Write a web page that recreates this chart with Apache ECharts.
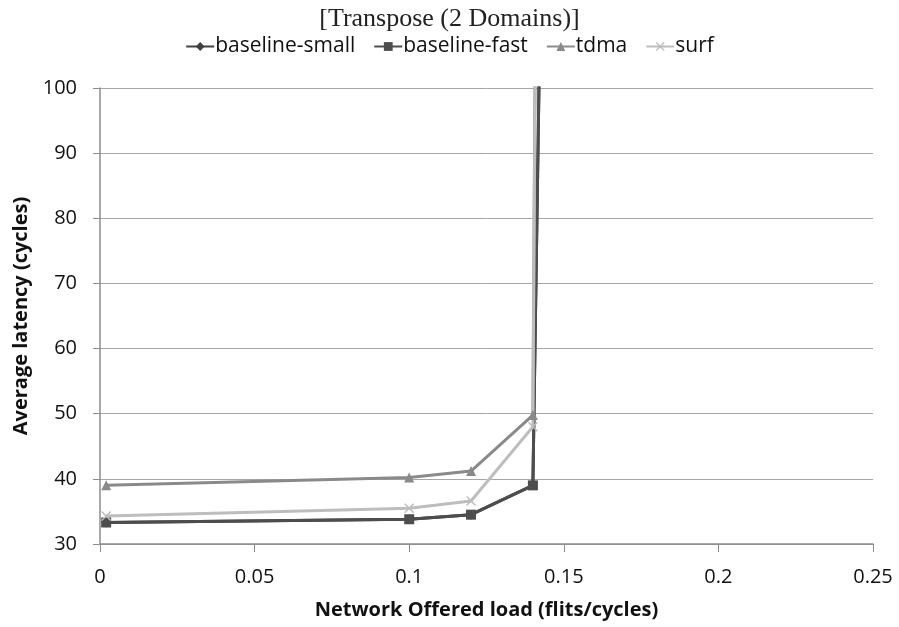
<!DOCTYPE html>
<html>
<head>
<meta charset="utf-8">
<script src="https://cdn.jsdelivr.net/npm/echarts@6/dist/echarts.min.js"></script>
<style>
  html, body { margin: 0; padding: 0; background: #fff; }
  #chart { width: 899px; height: 627px; }
</style>
</head>
<body>
<div id="chart"></div>
<script>
// Offered load (flits/cycle) and average latency (cycles) per router design
const loads = [0.002, 0.1, 0.12, 0.14, 0.15];
const baselineSmall = [33.3, 33.8, 34.5, 39.0, 350];
const baselineFast = [33.3, 33.8, 34.5, 39.0, 350];
const tdma = [39.0, 40.2, 41.2, 49.8, 800];
const surf = [34.3, 35.5, 36.6, 48.0, 800];
const seriesNames = ['baseline-small', 'baseline-fast', 'tdma', 'surf'];
const xTicks = [0, 0.05, 0.1, 0.15, 0.2, 0.25];
const yTicks = [30, 40, 50, 60, 70, 80, 90, 100];

const sans = '"Open Sans", "Liberation Sans", sans-serif';
const crossPath = 'path://M1,0L5,4L9,0L10,1L6,5L10,9L9,10L5,6L1,10L0,9L4,5L0,1Z';

function pairs(ys) {
  return loads.map((x, i) => [x, ys[i]]);
}

function makeSeries(name, ys, color, symbol, size) {
  return {
    name: name,
    type: 'line',
    data: pairs(ys),
    clip: true,
    symbol: symbol,
    symbolSize: size,
    showAllSymbol: true,
    lineStyle: { color: color, width: 3 },
    itemStyle: { color: color, borderColor: color, borderWidth: 0 },
    emphasis: { disabled: true },
    animation: false
  };
}

const chart = echarts.init(document.getElementById('chart'), null, { renderer: 'canvas' });
chart.setOption({
  backgroundColor: '#ffffff',
  animation: false,
  title: {
    text: '[Transpose (2 Domains)]',
    left: 'center',
    top: 1,
    textStyle: {
      fontFamily: '"Liberation Serif", "DejaVu Serif", serif',
      fontWeight: 'normal',
      fontSize: 26,
      color: '#222'
    }
  },
  legend: {
    data: seriesNames,
    top: 31,
    left: 'center',
    itemWidth: 28,
    itemHeight: 11,
    itemGap: 18,
    textStyle: { fontFamily: sans, fontSize: 21, color: '#111', padding: [0, 0, 0, -4] }
  },
  grid: { left: 100, right: 26, top: 88, bottom: 83, containLabel: false },
  xAxis: {
    type: 'value',
    min: 0,
    max: 0.25,
    interval: 0.05,
    name: 'Network Offered load (flits/cycles)',
    nameLocation: 'middle',
    nameGap: 56,
    nameTextStyle: { fontFamily: sans, fontWeight: 'bold', fontSize: 20, color: '#111' },
    axisLine: { show: true, onZero: false, lineStyle: { color: '#8c8c8c', width: 1.5 } },
    axisTick: { show: true, length: 8, lineStyle: { color: '#8c8c8c' } },
    axisLabel: {
      fontFamily: sans, fontSize: 20, color: '#111', margin: 23,
      formatter: v => xTicks.includes(+v.toFixed(2)) ? String(+v.toFixed(2)) : ''
    },
    splitLine: { show: false }
  },
  yAxis: {
    type: 'value',
    min: 30,
    max: 100,
    interval: 10,
    name: 'Average latency (cycles)',
    nameLocation: 'middle',
    nameGap: 63,
    nameRotate: 90,
    nameTextStyle: { fontFamily: sans, fontWeight: 'bold', fontSize: 20, color: '#111' },
    axisLine: { show: true, lineStyle: { color: '#8c8c8c', width: 1.5 } },
    axisTick: { show: true, length: 7, lineStyle: { color: '#8c8c8c' } },
    axisLabel: {
      fontFamily: sans, fontSize: 20, color: '#111', margin: 23,
      formatter: v => yTicks.includes(v) ? String(v) : ''
    },
    splitLine: { show: true, lineStyle: { color: '#a6a6a6', width: 1 } }
  },
  series: [
    makeSeries(seriesNames[0], baselineSmall, '#404040', 'diamond', 10),
    makeSeries(seriesNames[1], baselineFast, '#4d4d4d', 'rect', 10),
    makeSeries(seriesNames[2], tdma, '#8a8a8a', 'triangle', 10),
    makeSeries(seriesNames[3], surf, '#bdbdbd', crossPath, 10)
  ]
});
</script>
</body>
</html>
